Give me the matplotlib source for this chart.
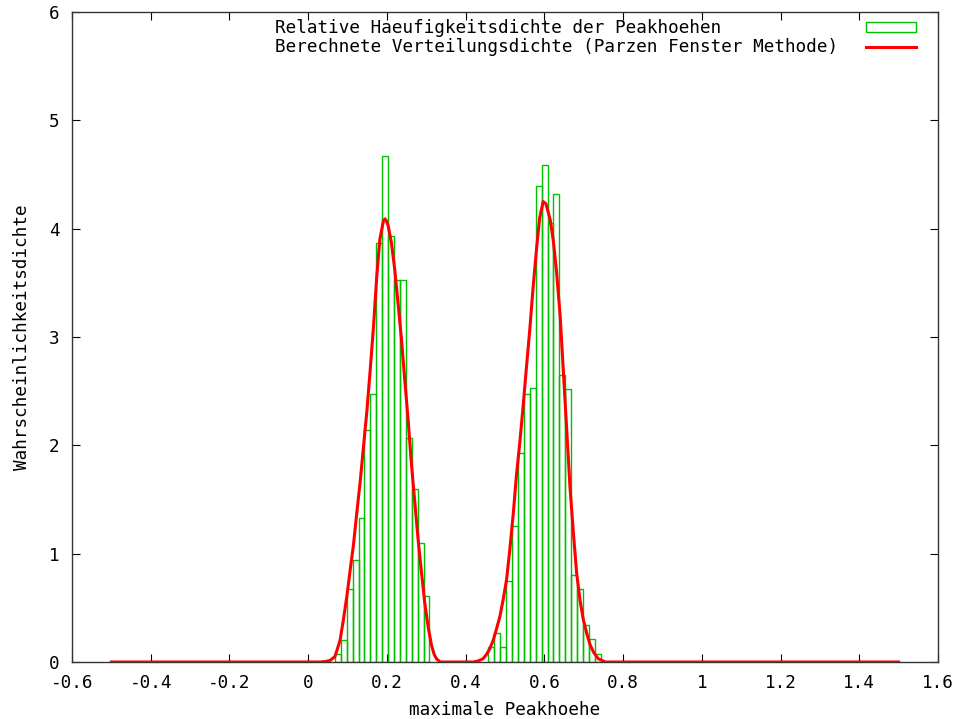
import numpy as np
import matplotlib
matplotlib.use("Agg")
import matplotlib.pyplot as plt

# ---- data ----
bin_width = 0.015
left_start = 0.068
left_heights = [0.07, 0.20, 0.67, 0.94, 1.33, 2.14, 2.47, 3.87, 4.67,
                3.93, 3.53, 3.53, 2.07, 1.60, 1.10, 0.61]
right_start = 0.458
right_heights = [0.14, 0.27, 0.14, 0.75, 1.26, 1.93, 2.47, 2.53, 4.39,
                 4.59, 4.05, 4.32, 2.65, 2.52, 0.80, 0.67, 0.34, 0.21, 0.07]

curve_x = [-0.5, 0.03, 0.045, 0.056, 0.068, 0.081, 0.089, 0.098, 0.106, 0.115,
           0.123, 0.132, 0.140, 0.149, 0.157, 0.166, 0.174, 0.182, 0.191, 0.195,
           0.199, 0.203, 0.211, 0.220, 0.228, 0.237, 0.245, 0.254, 0.262, 0.271,
           0.279, 0.288, 0.296, 0.305, 0.313, 0.320, 0.326, 0.335,
           0.420, 0.432, 0.444, 0.453, 0.461, 0.470, 0.478, 0.487, 0.495, 0.504,
           0.512, 0.521, 0.529, 0.538, 0.546, 0.554, 0.563, 0.571, 0.580, 0.588,
           0.597, 0.604, 0.615, 0.623, 0.631, 0.640, 0.648, 0.657, 0.665, 0.674,
           0.682, 0.691, 0.699, 0.708, 0.716, 0.725, 0.737, 0.755, 1.5]
curve_y = [0.0, 0.0, 0.005, 0.015, 0.05, 0.20, 0.38, 0.60, 0.83, 1.08,
           1.36, 1.66, 1.97, 2.31, 2.67, 3.10, 3.55, 3.90, 4.07, 4.09,
           4.07, 4.03, 3.88, 3.62, 3.32, 2.98, 2.62, 2.23, 1.84, 1.47,
           1.14, 0.82, 0.55, 0.32, 0.16, 0.07, 0.03, 0.0,
           0.0, 0.01, 0.03, 0.07, 0.12, 0.20, 0.30, 0.42, 0.57, 0.76,
           1.03, 1.37, 1.72, 2.04, 2.36, 2.70, 3.07, 3.44, 3.81, 4.10,
           4.25, 4.23, 4.08, 3.88, 3.60, 3.20, 2.70, 2.13, 1.62, 1.18,
           0.82, 0.56, 0.39, 0.26, 0.16, 0.09, 0.03, 0.0, 0.0]

x_ticks = [-0.6, -0.4, -0.2, 0, 0.2, 0.4, 0.6, 0.8, 1, 1.2, 1.4, 1.6]
x_tick_labels = ["-0.6", "-0.4", "-0.2", "0", "0.2", "0.4", "0.6", "0.8",
                 "1", "1.2", "1.4", "1.6"]
y_ticks = [0, 1, 2, 3, 4, 5, 6]

hist_label = "Relative Haeufigkeitsdichte der Peakhoehen"
curve_label = "Berechnete Verteilungsdichte (Parzen Fenster Methode)"
x_label = "maximale Peakhoehe"
y_label = "Wahrscheinlichkeitsdichte"

# ---- plotting ----
plt.rcParams['font.family'] = ['DejaVu Sans Mono', 'DejaVu Sans']
FS = 12.7
DPI = 100

fig = plt.figure(figsize=(9.61, 7.19), dpi=DPI)
ax = fig.add_axes([72 / 961, 1 - 662 / 719, (938 - 72) / 961, (662 - 12) / 719])

green = '#00c000'
edges = np.concatenate([left_start + bin_width * np.arange(len(left_heights)),
                        right_start + bin_width * np.arange(len(right_heights))])
heights = np.concatenate([left_heights, right_heights])
bars = ax.bar(edges, heights, width=bin_width, align='edge', fill=False,
              edgecolor=green, linewidth=1.0, label=hist_label, zorder=2)
line, = ax.plot(curve_x, curve_y, color='#ff0000', linewidth=2.2,
                label=curve_label, zorder=3, solid_joinstyle='round')

ax.set_xlim(-0.6, 1.6)
ax.set_ylim(0, 6)
ax.set_xticks(x_ticks)
ax.set_xticklabels(x_tick_labels)
ax.set_yticks(y_ticks)
ax.tick_params(direction='in', length=6, width=0.8, top=True, right=True,
               labelsize=FS, pad=9, colors='black')
for s in ax.spines.values():
    s.set_linewidth(1.0)
    s.set_color('#333333')

ax.set_xlabel(x_label, fontsize=FS, labelpad=6)
ax.set_ylabel(y_label, fontsize=FS, labelpad=13)

HTP = 1.6
leg = ax.legend([bars, line], [hist_label, curve_label],
                loc='upper right', frameon=False, markerfirst=False,
                fontsize=FS, handlelength=2.8, handletextpad=HTP,
                handleheight=0.55, labelspacing=0.08,
                borderaxespad=0.0, bbox_to_anchor=(0.9824, 1.0))

# left-align legend texts (gnuplot style): widen the gap for shorter labels
fig.canvas.draw()
renderer = fig.canvas.get_renderer()
texts = leg.get_texts()
widths = [t.get_window_extent(renderer).width for t in texts]
wmax = max(widths)
try:
    rows = leg._legend_handle_box.get_children()[0].get_children()
    for row, w in zip(rows, widths):
        row.sep = HTP * FS + (wmax - w) * 72.0 / DPI
except Exception:
    pass

fig.savefig('out.png', dpi=DPI)
